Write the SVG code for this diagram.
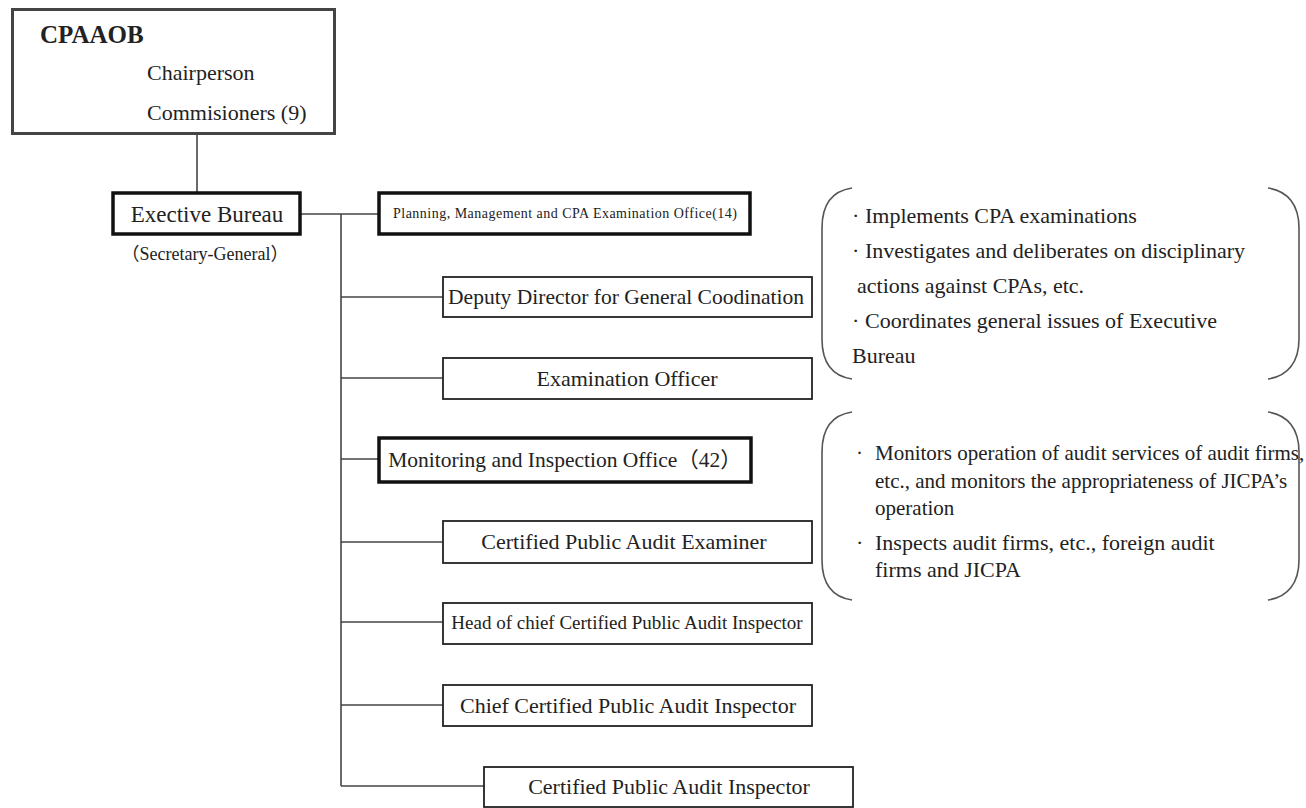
<svg xmlns="http://www.w3.org/2000/svg" width="1306" height="808" viewBox="0 0 1306 808">
<style>
text{font-family:"Liberation Serif",serif;fill:#222;}
.j{font-family:"Noto Sans CJK JP",sans-serif;}
.box{fill:#fff;stroke:#222;stroke-width:1.8;}
.thick{fill:#fff;stroke:#111;stroke-width:3.5;}
.top{fill:#fff;stroke:#444;stroke-width:3;}
.c{stroke:#444;stroke-width:1.6;fill:none;}
.br{stroke:#555;stroke-width:1.6;fill:none;}
.m{text-anchor:middle;font-size:22px;}
.b1{font-size:22px;}
.b2{font-size:21px;}
</style>
<rect width="1306" height="808" fill="#fff"/>
<g id="connectors">
<line class="c" x1="197" y1="134" x2="197" y2="193"/>
<line class="c" x1="300" y1="214" x2="379" y2="214"/>
<line class="c" x1="341" y1="214" x2="341" y2="786"/>
<line class="c" x1="341" y1="297" x2="443" y2="297"/>
<line class="c" x1="341" y1="378" x2="443" y2="378"/>
<line class="c" x1="341" y1="459" x2="379" y2="459"/>
<line class="c" x1="341" y1="542" x2="443" y2="542"/>
<line class="c" x1="341" y1="622" x2="443" y2="622"/>
<line class="c" x1="341" y1="705" x2="443" y2="705"/>
<line class="c" x1="341" y1="786" x2="484" y2="786"/>
</g>
<g id="cpaaob">
<rect class="top" x="12.5" y="9.5" width="322" height="124"/>
<text x="40" y="43" font-size="25" font-weight="bold">CPAAOB</text>
<text x="147" y="80" font-size="22">Chairperson</text>
<text x="147" y="120" font-size="22">Commisioners (9)</text>
</g>
<g id="exective">
<rect class="thick" x="113" y="193" width="187" height="41"/>
<text class="m" x="207" y="222" style="font-size:23px">Exective Bureau</text>
<text x="205" y="260" text-anchor="middle" font-size="18"><tspan class="j">（</tspan>Secretary-General<tspan class="j">）</tspan></text>
</g>
<g id="planning">
<rect class="thick" x="379" y="193" width="371" height="41"/>
<text x="393" y="218" font-size="14" textLength="344" lengthAdjust="spacing">Planning, Management and CPA Examination Office(14)</text>
</g>
<g id="deputy">
<rect class="box" x="443" y="277" width="369" height="40"/>
<text class="m" x="626" y="304" style="font-size:21.5px">Deputy  Director for General Coodination</text>
</g>
<g id="examofficer">
<rect class="box" x="443" y="358" width="369" height="41"/>
<text class="m" x="627" y="386">Examination Officer</text>
</g>
<g id="monitoring">
<rect class="thick" x="379" y="438" width="372" height="44"/>
<text class="m" x="565" y="467" style="font-size:21.5px">Monitoring and Inspection Office<tspan class="j">（</tspan>42<tspan class="j">）</tspan></text>
</g>
<g id="cpae">
<rect class="box" x="443" y="521" width="369" height="42"/>
<text class="m" x="624" y="549">Certified Public Audit Examiner</text>
</g>
<g id="head">
<rect class="box" x="443" y="603" width="369" height="41"/>
<text class="m" x="627" y="629" style="font-size:19px">Head of chief Certified Public Audit Inspector</text>
</g>
<g id="chief">
<rect class="box" x="443" y="685" width="369" height="41"/>
<text class="m" x="628" y="713">Chief Certified Public Audit Inspector</text>
</g>
<g id="cpai">
<rect class="box" x="484" y="767" width="369" height="40"/>
<text class="m" x="669" y="794">Certified Public Audit Inspector</text>
</g>
<g id="note1">
<path class="br" d="M852,188 C832,191 822,205 822,228 L822,339 C822,362 832,376 852,379"/>
<path class="br" d="M1268,188 C1288,191 1299,205 1299,228 L1299,339 C1299,362 1288,376 1268,379"/>
<text class="b1" y="223"><tspan x="852">·</tspan><tspan x="865">Implements CPA examinations</tspan></text>
<text class="b1" y="258"><tspan x="852">·</tspan><tspan x="865">Investigates and deliberates on disciplinary</tspan></text>
<text class="b1" x="857" y="293">actions against CPAs, etc.</text>
<text class="b1" y="328"><tspan x="852">·</tspan><tspan x="865">Coordinates general issues of Executive</tspan></text>
<text class="b1" x="852" y="363">Bureau</text>
</g>
<g id="note2">
<path class="br" d="M852,412 C832,415 822,429 822,452 L822,560 C822,583 832,597 852,600"/>
<path class="br" d="M1268,412 C1288,415 1299,429 1299,452 L1299,560 C1299,583 1288,597 1268,600"/>
<text class="b2" y="460"><tspan x="856">·</tspan><tspan x="875">Monitors operation of audit services of audit firms,</tspan></text>
<text class="b2" x="875" y="488">etc., and monitors the appropriateness of JICPA’s</text>
<text class="b2" x="875" y="515">operation</text>
<text class="b1" y="550"><tspan x="856">·</tspan><tspan x="875">Inspects audit firms, etc., foreign audit</tspan></text>
<text class="b1" x="875" y="577">firms and JICPA</text>
</g>
</svg>
